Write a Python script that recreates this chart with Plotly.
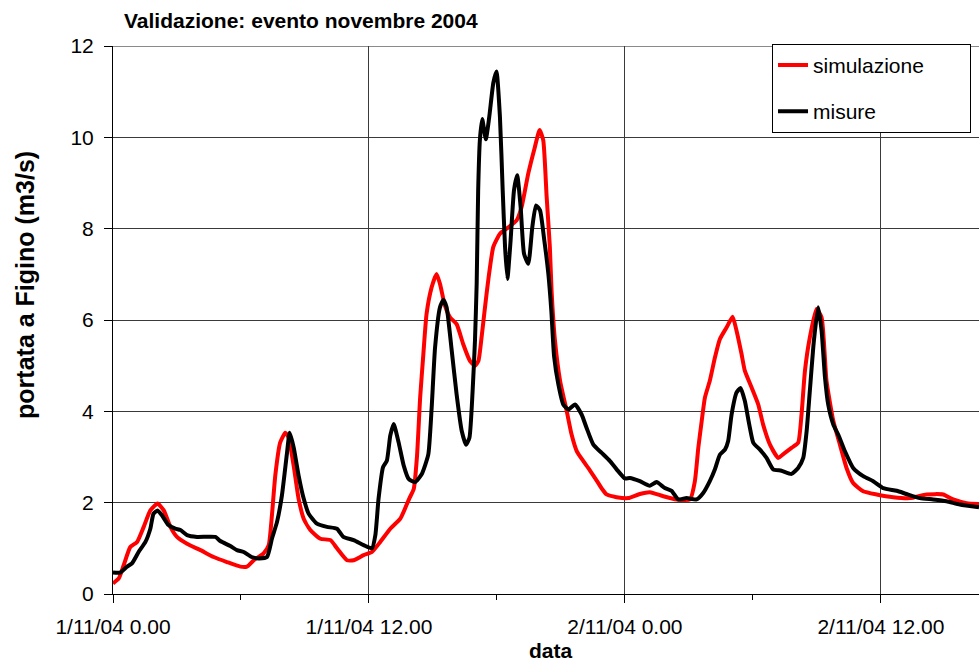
import pandas as pd
import plotly.graph_objects as go

# ---- data (hours after 1/11/04 0.00, discharge m3/s) ----
sim_hours = [0.0, 0.27, 0.5, 0.81, 1.13, 1.44, 1.75, 2.09, 2.38, 2.69, 3.0, 3.47, 4.1, 4.72, 5.34,
             5.97, 6.28, 6.6, 7.06, 7.3, 7.45, 7.61, 7.84, 8.08, 8.23, 8.47, 8.7, 8.94, 9.25, 9.72,
             10.2, 10.5, 10.97, 11.28, 11.75, 12.14, 12.53, 13.0, 13.47, 13.9, 14.1, 14.25, 14.4,
             14.55, 14.7, 14.94, 15.17, 15.33, 15.56, 15.8, 16.11, 16.42, 16.74, 16.97, 17.13, 17.28,
             17.44, 17.6, 17.83, 18.14, 18.45, 18.92, 19.16, 19.47, 19.78, 20.0, 20.17, 20.33, 20.48,
             20.56, 20.72, 20.96, 21.27, 21.5, 21.74, 22.05, 22.28, 22.6, 22.9, 23.14, 23.61, 24.16,
             24.7, 25.17, 25.8, 26.42, 27.05, 27.28, 27.44, 27.6, 27.75, 27.98, 28.22, 28.45, 28.77,
             29.05, 29.23, 29.47, 29.62, 29.94, 30.25, 30.48, 30.8, 31.19, 31.5, 31.81, 32.12, 32.28,
             32.44, 32.67, 32.98, 33.22, 33.45, 33.77, 34.08, 34.39, 34.7, 35.17, 35.8, 36.58, 37.36,
             38.14, 38.92, 39.39, 40.02, 40.6]
sim_values = [0.23, 0.34, 0.63, 1.03, 1.14, 1.47, 1.83, 1.98, 1.83, 1.47, 1.25, 1.1, 0.96, 0.81, 0.7,
              0.6, 0.6, 0.74, 0.89, 1.07, 1.72, 2.6, 3.32, 3.53, 3.43, 2.81, 2.09, 1.65, 1.4, 1.21,
              1.18, 1.0, 0.74, 0.74, 0.85, 0.92, 1.14, 1.43, 1.65, 2.1, 2.3, 3.0, 4.3,
              5.25, 6.13, 6.72, 7.01, 6.79, 6.32, 6.06, 5.91, 5.47, 5.1, 5.0, 5.1, 5.62,
              6.28, 6.9, 7.6, 7.89, 8.0, 8.18, 8.48, 9.21, 9.79, 10.16, 9.94, 8.7, 7.6,
              6.65, 5.55, 4.67, 4.01, 3.49, 3.13, 2.91, 2.76, 2.54, 2.32, 2.18, 2.12, 2.1,
              2.19, 2.23, 2.14, 2.07, 2.07, 2.47, 3.2, 3.79, 4.3, 4.67, 5.18, 5.58, 5.84,
              6.07, 5.77, 5.25, 4.89, 4.52, 4.15, 3.71, 3.27, 2.98, 3.09, 3.2, 3.31, 3.93,
              4.89, 5.62, 6.24, 6.06, 4.67, 3.79, 3.27, 2.76, 2.43, 2.25, 2.18, 2.12, 2.1,
              2.18, 2.18, 2.07, 1.99, 1.97]

mis_hours = [0.0, 0.34, 0.66, 0.89, 1.2, 1.52, 1.75, 1.9, 2.09, 2.3, 2.6, 2.92, 3.16, 3.47, 3.94,
             4.8, 5.03, 5.5, 5.81, 6.13, 6.5, 6.83, 7.22, 7.45, 7.69, 7.92, 8.16, 8.28, 8.47, 8.7,
             8.94, 9.17, 9.56, 10.03, 10.5, 10.8, 11.28, 11.75, 12.14, 12.3, 12.45, 12.66, 12.84,
             13.0, 13.16, 13.39, 13.63, 13.86, 14.16, 14.47, 14.78, 14.94, 15.1, 15.33, 15.49, 15.64,
             15.88, 16.11, 16.35, 16.55, 16.71, 16.86, 16.97, 17.05, 17.12, 17.2, 17.31, 17.48, 17.64,
             17.83, 17.98, 18.14, 18.27, 18.38, 18.49, 18.64, 18.8, 18.95, 19.11, 19.27, 19.47, 19.66,
             19.83, 20.02, 20.2, 20.41, 20.55, 20.68, 20.88, 21.11, 21.35, 21.66, 21.97, 22.2, 22.52,
             22.91, 23.3, 23.61, 24.0, 24.23, 24.7, 25.17, 25.48, 25.87, 26.19, 26.5, 26.89, 27.36,
             27.67, 27.98, 28.22, 28.45, 28.69, 28.84, 29.0, 29.23, 29.42, 29.62, 29.83, 30.02, 30.33,
             30.64, 30.95, 31.34, 31.81, 32.12, 32.36, 32.52, 32.67, 32.86, 33.06, 33.22, 33.38, 33.53,
             33.77, 34.0, 34.31, 34.7, 35.17, 35.64, 36.11, 36.74, 37.2, 37.83, 38.45, 39.08, 39.7, 40.6]
mis_values = [0.47, 0.47, 0.6, 0.67, 0.92, 1.14, 1.43, 1.76, 1.83, 1.72, 1.51, 1.43, 1.4, 1.29, 1.25,
              1.25, 1.16, 1.05, 0.96, 0.92, 0.81, 0.78, 0.81, 1.21, 1.58, 2.16, 3.1, 3.53, 3.21, 2.6,
              2.09, 1.76, 1.54, 1.47, 1.43, 1.25, 1.18, 1.07, 1.0, 1.29, 2.09, 2.78, 2.92,
              3.47, 3.72, 3.32, 2.81, 2.52, 2.45, 2.62, 3.05, 4.08, 5.4, 6.28, 6.44, 6.28,
              5.33, 4.37, 3.57, 3.27, 3.42, 4.45, 5.55, 6.8, 8.84, 9.94, 10.4, 9.96, 10.45,
              11.19, 11.44, 10.45, 8.84, 7.6, 6.9, 7.74, 8.84, 9.17, 8.48, 7.45, 7.23, 8.04,
              8.51, 8.4, 7.82, 7.01, 6.2, 5.2, 4.59, 4.15, 4.04, 4.15, 3.93, 3.64, 3.27,
              3.09, 2.91, 2.73, 2.53, 2.54, 2.47, 2.37, 2.45, 2.32, 2.26, 2.07, 2.1, 2.07,
              2.21, 2.47, 2.73, 3.05, 3.16, 3.35, 3.93, 4.41, 4.51, 4.23, 3.71, 3.31, 3.16,
              2.98, 2.73, 2.7, 2.63, 2.76, 2.98, 3.57, 4.45, 5.55, 6.28, 5.77, 4.74, 4.15,
              3.71, 3.49, 3.13, 2.76, 2.58, 2.47, 2.32, 2.26, 2.19, 2.1, 2.07, 2.03, 1.96, 1.9]

tick_hours = [0, 12, 24, 36]
tick_labels = ["1/11/04 0.00", "1/11/04 12.00", "2/11/04 0.00", "2/11/04 12.00"]
y_ticks = [0, 2, 4, 6, 8, 10, 12]

start = pd.Timestamp("2004-11-01 00:00")
to_time = lambda hs: [start + pd.Timedelta(hours=h) for h in hs]

FONT = "Liberation Sans, Arial, sans-serif"
PAD = "&nbsp;" * 7  # widens the legend box towards the right edge, as in the reference

fig = go.Figure()
fig.add_trace(go.Scatter(x=to_time(sim_hours), y=sim_values, mode="lines", name="simulazione" + PAD,
                         legendgroup="a",
                         line=dict(color="#ff0000", width=4, shape="spline", smoothing=0.5)))
fig.add_trace(go.Scatter(x=to_time(mis_hours), y=mis_values, mode="lines", name="misure",
                         legendgroup="b",
                         line=dict(color="#000000", width=4, shape="spline", smoothing=0.5)))

fig.update_layout(
    width=979, height=664,
    margin=dict(l=113, r=0, t=46, b=70),
    paper_bgcolor="white", plot_bgcolor="white",
    font=dict(family=FONT, size=21, color="black"),
    showlegend=True,
    legend=dict(x=0.761, y=1.004, xanchor="left", yanchor="top",
                bgcolor="white", bordercolor="black", borderwidth=1,
                font=dict(size=21), tracegroupgap=16),
    xaxis=dict(
        range=[start, start + pd.Timedelta(hours=40.6)],
        tickvals=to_time(tick_hours), ticktext=tick_labels,
        ticks="outside", ticklen=8, tickcolor="black", tickwidth=1,
        showgrid=True, gridcolor="#3a3a3a", gridwidth=1,
        showline=True, linecolor="black", linewidth=1,
        zeroline=False, tickfont=dict(size=21), ticklabelstandoff=6,
        minor=dict(tickvals=to_time([6, 18, 30]), ticks="outside", ticklen=5,
                   tickcolor="black", showgrid=False),
    ),
    yaxis=dict(
        range=[0, 12], tickvals=y_ticks,
        ticks="outside", ticklen=8, tickcolor="black",
        showgrid=True, gridcolor="#3a3a3a", gridwidth=1,
        showline=True, linecolor="black", linewidth=1,
        zeroline=False, tickfont=dict(size=21), ticklabelstandoff=6,
    ),
)

fig.add_shape(type="line", xref="paper", yref="y", x0=0, x1=1, y0=12, y1=12,
              line=dict(color="#8a8a8a", width=2), layer="below")

fig.add_annotation(text="<b>Validazione: evento novembre 2004</b>", xref="paper", yref="paper",
                   x=0.0104, y=1.047, xanchor="left", yanchor="middle", showarrow=False,
                   font=dict(size=21))
fig.add_annotation(text="<b>portata a Figino (m3/s)</b>", xref="paper", yref="paper",
                   x=-0.1016, y=0.564, xanchor="center", yanchor="middle", showarrow=False,
                   textangle=-90, font=dict(size=25))
fig.add_annotation(text="<b>data</b>", xref="paper", yref="paper",
                   x=0.5058, y=-0.104, xanchor="center", yanchor="middle", showarrow=False,
                   font=dict(size=21))

fig.write_html("out.html")
